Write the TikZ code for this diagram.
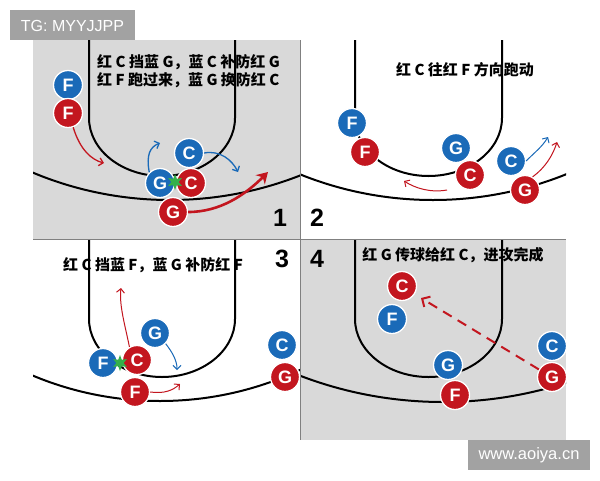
\documentclass[tikz,border=0pt]{standalone}
\usepackage{fontspec}
\setmainfont{Liberation Sans}
\newfontfamily\cjk{Noto Sans CJK SC}
\usetikzlibrary{arrows.meta,shapes.geometric}
\definecolor{pblue}{HTML}{1A6AB8}
\definecolor{pred}{HTML}{C3161F}
\definecolor{court}{HTML}{D9D9D9}
\definecolor{markbox}{HTML}{A2A2A2}
\definecolor{screen}{HTML}{35B04A}
\tikzset{
  player/.style={circle,draw=white,line width=1.3pt,minimum size=29pt,inner sep=0pt,
    text=white,font=\fontsize{18}{18}\selectfont\bfseries},
  bp/.style={player,fill=pblue},
  rp/.style={player,fill=pred},
  run/.style={line width=1.3pt,-{Straight Barb[length=4pt,width=8pt]}},
  courtline/.style={line width=2pt,black},
  caption/.style={font=\cjk\fontsize{15}{18}\selectfont\bfseries,inner sep=0pt},
  num/.style={font=\fontsize{25}{25}\selectfont\bfseries,inner sep=0pt},
  pick/.style={star,star points=6,star point ratio=2.2,fill=screen,minimum size=16pt,inner sep=0pt},
}
\begin{document}
\begin{tikzpicture}[x=1pt,y=-1pt]
\useasboundingbox (0,0) rectangle (600,480);
\fill[white] (0,0) rectangle (600,480);
\fill[court] (33,40) rectangle (300,239);
\fill[court] (300,240) rectangle (566,440);
% panel 1
\begin{scope}
\clip (33,40) rectangle (300,239);
\draw[courtline] (89,40) -- (89,118) .. controls (89,150) and (122,176) .. (162,176)
  .. controls (202,176) and (235,150) .. (235,118) -- (235,40);
\draw[courtline] (170,-156) circle[radius=356pt];
\end{scope}
% panel 2
\begin{scope}
\clip (300,40) rectangle (566,239);
\draw[courtline] (355,40) -- (355,118) .. controls (355,150) and (388,176) .. (428.5,176)
  .. controls (469,176) and (502,150) .. (502,118) -- (502,40);
\draw[courtline] (433,-156) circle[radius=356pt];
\end{scope}
% panel 3
\begin{scope}
\clip (33,240) rectangle (300,440);
\draw[courtline] (89,240) -- (89,319) .. controls (89,351) and (122,377) .. (162,377)
  .. controls (202,377) and (235,351) .. (235,319) -- (235,240);
\draw[courtline] (160,71) circle[radius=330pt];
\end{scope}
% panel 4
\begin{scope}
\clip (300,240) rectangle (566,440);
\draw[courtline] (355,240) -- (355,319) .. controls (355,351) and (388,377) .. (428.5,377)
  .. controls (469,377) and (502,351) .. (502,319) -- (502,240);
\draw[courtline] (443,2) circle[radius=400pt];
\end{scope}
\draw[gray,line width=1pt] (300,40) -- (300,440);
\draw[gray,line width=1pt] (33,239.5) -- (566,239.5);

\node[caption,anchor=west] (t1a) at (97,62) {红 C 挡蓝 G，蓝 C 补防红 G};
\node[caption,anchor=west] (t1b) at (97,80) {红 F 跑过来，蓝 G 换防红 C};
\node[caption] (t2) at (465,70) {红 C 往红 F 方向跑动};
\node[caption] (t3) at (153,265) {红 C 挡蓝 F，蓝 G 补防红 F};
\node[caption] (t4) at (453,255) {红 G 传球给红 C，进攻完成};
\node[num] (n1) at (280,218) {1};
\node[num] (n2) at (317,218) {2};
\node[num] (n3) at (282,259) {3};
\node[num] (n4) at (317,259) {4};

\node[bp] (b1F) at (68,85) {F};
\node[rp] (r1F) at (68,113) {F};
\node[bp] (b1C) at (189,153) {C};
\node[bp] (b1G) at (160,183) {G};
\node[rp] (r1C) at (191,183) {C};
\node[rp] (r1G) at (173,212) {G};
\node[pick] (s1) at (175,182) {};
\coordinate (e1a) at (104,163);
\coordinate (e1b) at (160,143);
\coordinate (e1c) at (238,172);
\coordinate (e1d) at (268,172);
\draw[run,pred] (r1F.-70) .. controls (80,150) and (92,160) .. (e1a);
\draw[run,pblue] (b1G.135) .. controls (146,155) and (150,147) .. (e1b);
\draw[run,pblue] (b1C.east) .. controls (220,150) and (232,160) .. (e1c);
\draw[pred,line width=2.6pt,-{Stealth[length=11pt,width=13pt]}] (r1G.east)
  .. controls (220,212) and (245,195) .. (e1d);

\node[bp] (b2F) at (352,123) {F};
\node[rp] (r2F) at (365,152) {F};
\node[bp] (b2G) at (456,148) {G};
\node[rp] (r2C) at (470,175) {C};
\node[bp] (b2C) at (511,161) {C};
\node[rp] (r2G) at (525,190) {G};
\coordinate (s2a) at (447,190);
\coordinate (e2a) at (404,181);
\coordinate (e2b) at (548,137);
\coordinate (e2c) at (557,142);
\draw[run,pred,line width=1pt] (s2a) .. controls (430,193) and (415,188) .. (e2a);
\draw[run,pblue,line width=1pt] (b2C.east) .. controls (535,152) and (542,147) .. (e2b);
\draw[run,pred,line width=1pt] (r2G.60) .. controls (545,168) and (553,155) .. (e2c);

\node[bp] (b3G) at (155,333) {G};
\node[bp] (b3F) at (103,363) {F};
\node[rp] (r3C) at (137,360) {C};
\node[rp] (r3F) at (135,392) {F};
\node[bp] (b3C) at (282,345) {C};
\node[rp] (r3G) at (285,377) {G};
\node[pick] (s3) at (120,363) {};
\coordinate (e3a) at (121,288);
\coordinate (e3b) at (177,370);
\coordinate (e3c) at (180,384);
\draw[run,pred,line width=1pt] (r3C.120) .. controls (125,325) and (119,305) .. (e3a);
\draw[run,pblue,line width=1pt] (b3G.-45) .. controls (172,352) and (177,360) .. (e3b);
\draw[run,pred,line width=1pt] (r3F.east) .. controls (165,394) and (173,390) .. (e3c);

\node[rp] (r4C) at (402,286) {C};
\node[bp] (b4F) at (392,319) {F};
\node[bp] (b4G) at (448,365) {G};
\node[rp] (r4F) at (455,395) {F};
\node[bp] (b4C) at (552,346) {C};
\node[rp] (r4G) at (552,377) {G};
\coordinate (e4a) at (421,298);
\draw[pred,line width=2pt,dash pattern=on 10pt off 7pt,-{Straight Barb[length=6pt,width=12pt]}]
  (r4G.150) -- (e4a);

\fill[markbox] (10,10) rectangle (135,40);
\node[text=white,font=\fontsize{16}{16}\selectfont] (wm1) at (72.5,25.5) {TG: MYYJJPP};
\fill[markbox] (468,440) rectangle (590,470);
\node[text=white,font=\fontsize{16.5}{16.5}\selectfont] (wm2) at (529,455) {www.aoiya.cn};
\end{tikzpicture}
\end{document}
